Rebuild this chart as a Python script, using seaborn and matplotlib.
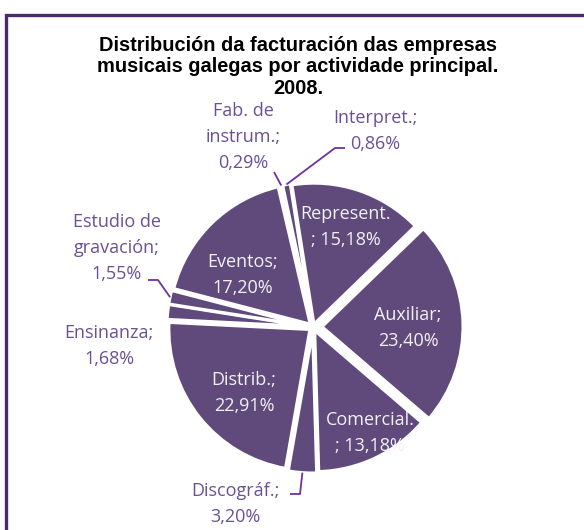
import numpy as np
import matplotlib
matplotlib.use("Agg")
import matplotlib.pyplot as plt
import seaborn as sns

# ---- data ----
title = "Distribución da facturación das empresas\nmusicais galegas por actividade principal.\n2008."
categories = ["Represent.", "Auxiliar", "Comercial.", "Discográf.", "Distrib.",
              "Ensinanza", "Estudio de\ngravación", "Eventos", "Fab. de\ninstrum.", "Interpret."]
shares = [15.18, 23.40, 13.18, 3.20, 22.91, 1.68, 1.55, 17.20, 0.29, 0.86]

# ---- layout / style ----
W, H = 584, 530
sns.set_theme(style="white")
plt.rcParams["font.family"] = ["Open Sans", "DejaVu Sans"]

FILL = "#5f4a7b"
IN_TXT = "#f3f1f6"
OUT_TXT = "#6b5096"
LEADER = "#7030a0"
FRAME = "#4b2b6c"

def py(y):
    return H - y

# separator between name and value, label centre (px), inside?, leader elbow points (px)
seps = ["\n; ", ";\n", "\n; ", ";\n", ";\n", ";\n", ";\n", ";\n", ";\n", ";\n"]
label_pos = [(346, 227), (408, 328), (370, 433), (235, 504), (244, 393),
             (109, 346), (117, 248), (243, 275), (243, 137), (375, 131)]
inside = [True, True, True, False, True, False, False, True, False, False]
leaders = {3: [(300, 494), (290, 494)],
           6: [(158, 280), (148, 280)],
           8: [(274, 172)],
           9: [(335, 148), (345, 148)]}
explode = [3, 9, 4, 5, 4, 5, 5, 4, 4, 4]

fig = plt.figure(figsize=(W / 100, H / 100), dpi=100)
ax = fig.add_axes([0, 0, 1, 1])

wedges, _ = ax.pie(shares, startangle=99, counterclock=False,
                   colors=[FILL] * len(shares), explode=explode, radius=141,
                   center=(313, py(327)),
                   wedgeprops=dict(edgecolor="white", linewidth=2.2))
ax.set_xlim(0, W)
ax.set_ylim(0, H)
ax.set_aspect("equal")
ax.axis("off")

# Auxiliar wedge sits above the Comercial label (clips its end as in original)
wedges[1].set_zorder(3.5)

for i, (name, val) in enumerate(zip(categories, shares)):
    txt = name + seps[i] + f"{val:.2f}".replace(".", ",") + "%"
    x, y = label_pos[i]
    ax.text(x, py(y), txt, ha="center", va="center", fontsize=13,
            color=IN_TXT if inside[i] else OUT_TXT, linespacing=1.6,
            zorder=3 if i == 2 else 5)
    if i in leaders:
        w = wedges[i]
        th = np.deg2rad(0.5 * (w.theta1 + w.theta2))
        ax_ = w.center[0] + w.r * np.cos(th)
        ay_ = w.center[1] + w.r * np.sin(th)
        xs = [ax_] + [p[0] for p in leaders[i]]
        ys = [ay_] + [py(p[1]) for p in leaders[i]]
        ax.plot(xs, ys, color=LEADER, lw=1.3, zorder=6, solid_capstyle="butt")

# title
ax.text(298, py(67), title, ha="center", va="center", fontsize=14.4,
        fontweight="bold", family=["Liberation Sans", "DejaVu Sans"],
        linespacing=1.18, color="black", zorder=7)

# frame (top and left edges visible)
ax.plot([5.5, 5.5, W + 10], [-10, py(14.5), py(14.5)], color=FRAME, lw=2.4,
        solid_joinstyle="miter", clip_on=False, zorder=8)

fig.savefig("out.png", dpi=100)
